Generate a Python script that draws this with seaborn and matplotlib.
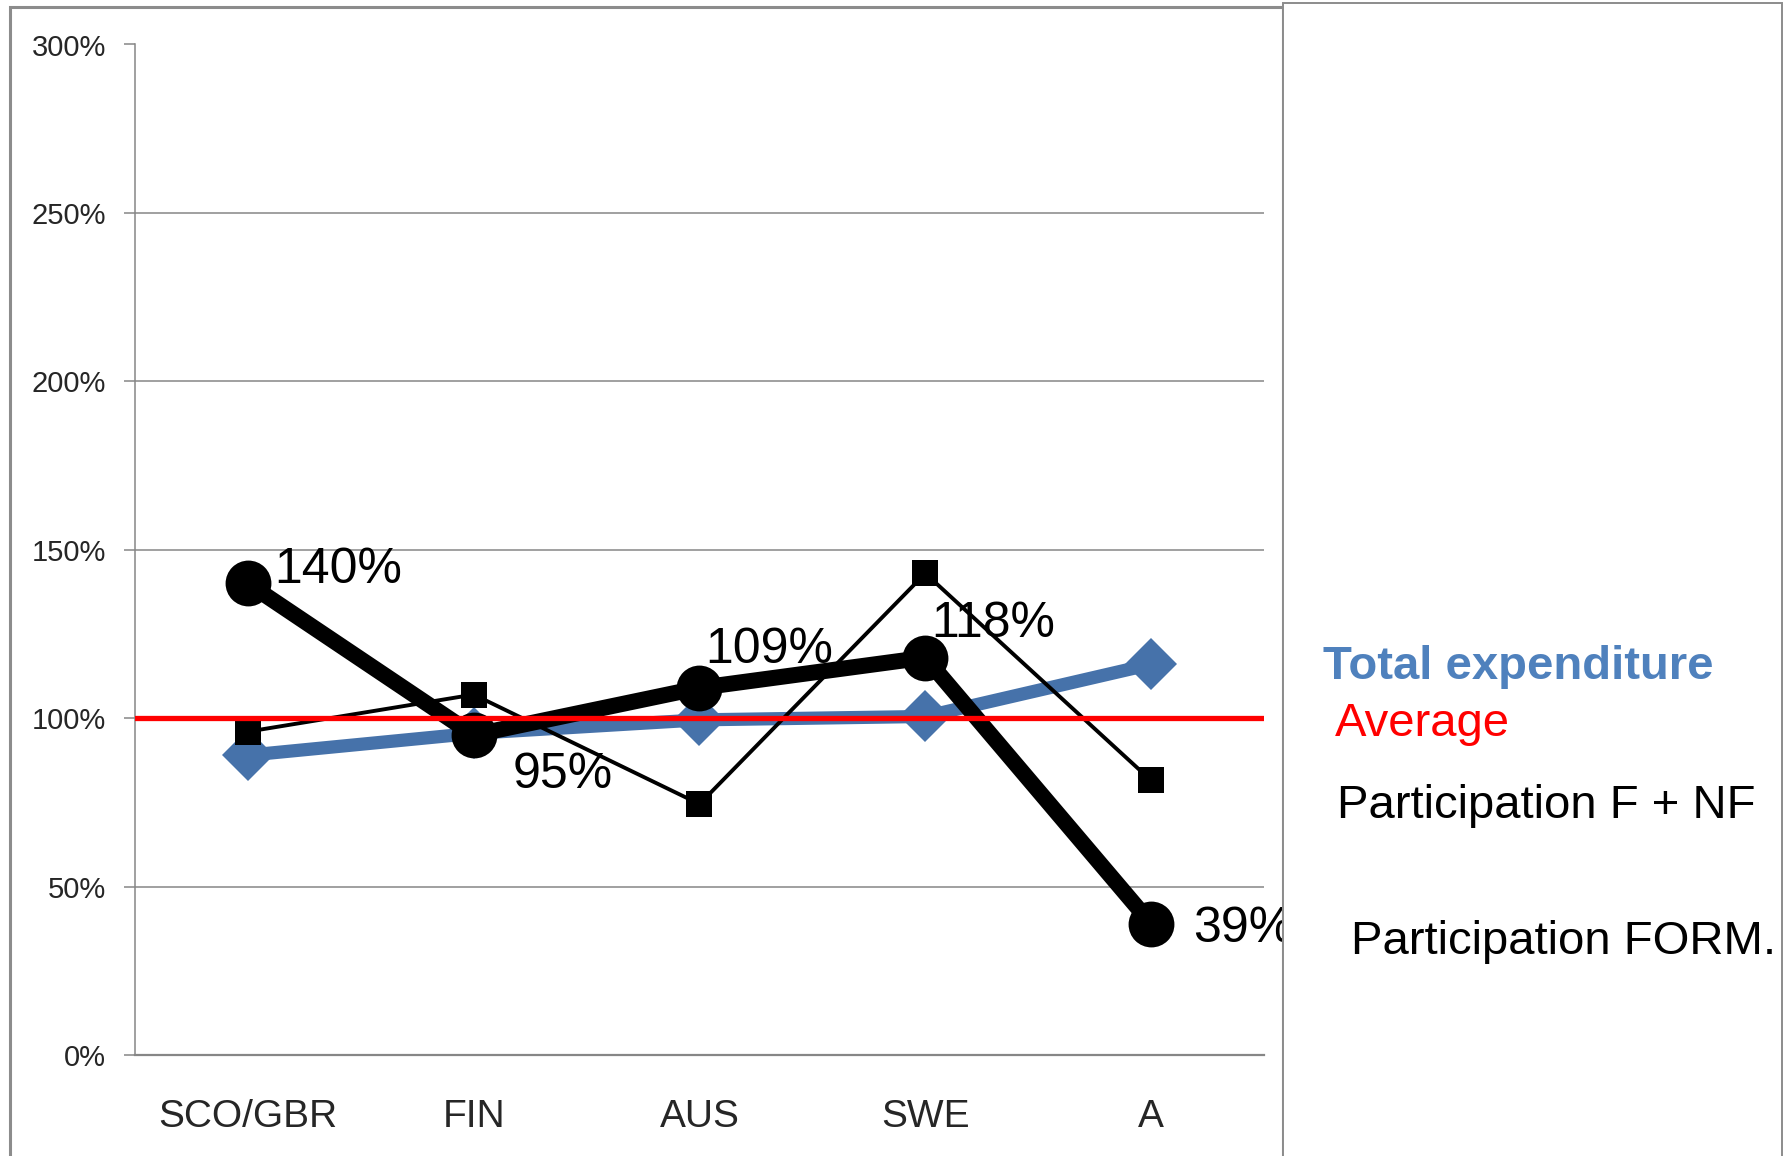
import matplotlib
matplotlib.use('Agg')
import matplotlib.pyplot as plt
from matplotlib.patches import Rectangle
from matplotlib.ticker import FuncFormatter
import seaborn as sns
import pandas as pd

# ---- data ----
countries = ['SCO/GBR', 'FIN', 'AUS', 'SWE', 'A']
total_expenditure = [89, 95.5, 99.5, 100.5, 116]
participation_f_nf = [96, 107, 74.5, 143, 81.5]
participation_form = [140, 95, 109, 118, 39]
form_labels = ['140%', '95%', '109%', '118%', '39%']
average = 100
y_ticks = [0, 50, 100, 150, 200, 250, 300]

df = pd.DataFrame({
    'country': countries,
    'total': total_expenditure,
    'f_nf': participation_f_nf,
    'form': participation_form,
})

sns.set_theme(style='white')
plt.rcParams['font.family'] = ['Liberation Sans', 'DejaVu Sans']

W, H = 1789, 1156
fig = plt.figure(figsize=(W / 100, H / 100), dpi=100)
ax = fig.add_axes([135 / W, 1 - 1055 / H, (1264 - 135) / W, (1055 - 44.5) / H])

blue = '#4672AA'
grey = '#868686'

# series, bottom to top
sns.lineplot(data=df, x='country', y='total', ax=ax, sort=False, color=blue,
             lw=9.5, marker='D', markersize=26, markeredgewidth=0, zorder=2)
sns.lineplot(data=df, x='country', y='f_nf', ax=ax, sort=False, color='black',
             lw=2.8, marker='s', markersize=19, markeredgewidth=0, zorder=3)
sns.lineplot(data=df, x='country', y='form', ax=ax, sort=False, color='black',
             lw=11.5, marker='o', markersize=33, markeredgewidth=0, zorder=4)
ax.axhline(average, color='red', lw=3.8, zorder=5)

# data labels on the FORM series
offsets = [(26, 13), (39, -40), (6, 38), (6, 34), (42, -5)]
for i, (val, lab) in enumerate(zip(participation_form, form_labels)):
    ax.annotate(lab, (i, val), xytext=offsets[i], textcoords='offset pixels',
                ha='left', va='center', fontsize=36, color='black', zorder=6)

# axes styling
ax.set_xlim(-0.5, len(countries) - 0.5)
ax.set_ylim(0, 300)
ax.set_yticks(y_ticks)
ax.yaxis.set_major_formatter(FuncFormatter(lambda v, p: f'{v:.0f}%'))
ax.set_xlabel('')
ax.set_ylabel('')
ax.grid(axis='y', color=grey, lw=1.1)
ax.grid(axis='x', visible=False)
for s in ['top', 'right']:
    ax.spines[s].set_visible(False)
ax.spines['left'].set_color(grey)
ax.spines['left'].set_linewidth(1.1)
ax.spines['bottom'].set_color(grey)
ax.spines['bottom'].set_linewidth(1.6)
ax.tick_params(axis='y', direction='out', length=8, width=1.1, color=grey,
               pad=13, labelsize=21, left=True)
ax.tick_params(axis='x', length=0, pad=32, labelsize=28)

# outer chart frame and the legend box on the right
fig.patches.append(Rectangle((10 / W, -0.05), (1283 - 10) / W, 1.05 - 7 / H,
                             transform=fig.transFigure, fill=False,
                             edgecolor='#8C8C8C', lw=2.2, zorder=1))
fig.patches.append(Rectangle((1283 / W, -0.05), (1782 - 1283) / W, 1.05 - 3.5 / H,
                             transform=fig.transFigure, facecolor='white',
                             edgecolor='#8C8C8C', lw=1.4, zorder=2))

fig.text(1323 / W, 1 - 679 / H, 'Total expenditure', fontsize=34,
         fontweight='bold', color='#4F81BD', va='baseline', zorder=3)
fig.text(1335 / W, 1 - 736 / H, 'Average', fontsize=34, color='red',
         va='baseline', zorder=3)
fig.text(1337 / W, 1 - 818 / H, 'Participation F + NF', fontsize=34,
         color='black', va='baseline', zorder=3)
fig.text(1351 / W, 1 - 954 / H, 'Participation FORM.', fontsize=34,
         color='black', va='baseline', zorder=3)

fig.savefig('out.png', dpi=100, facecolor='white')
